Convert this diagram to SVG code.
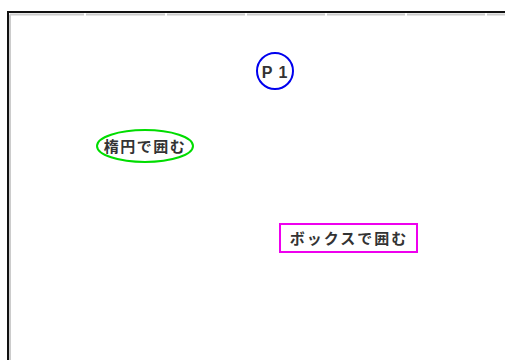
<svg xmlns="http://www.w3.org/2000/svg" width="505" height="360" viewBox="0 0 505 360">
<style>
.lbl{font-family:"Liberation Sans","Noto Sans CJK JP",sans-serif;font-size:15px;font-weight:bold;fill:#333;text-anchor:middle;dominant-baseline:central}
.frame{fill:none;stroke:#111;stroke-width:2}
.shade{fill:none;stroke:#ccc;stroke-width:2}
</style>
<rect width="505" height="360" fill="#fff"/>
<g id="frame">
<path class="shade" d="M10,360 V14.5"/>
<path class="shade" d="M10,14.5 H84 M86,14.5 H165 M167,14.5 H245 M247,14.5 H325 M327,14.5 H405 M407,14.5 H485 M487,14.5 H505"/>
<path class="frame" d="M8,360 V12 H505"/>
</g>
<g id="p1">
<circle cx="275" cy="71" r="18" fill="none" stroke="#0000ee" stroke-width="2"/>
<text class="lbl" x="275" y="72" style="font-size:16px;letter-spacing:1px">P 1</text>
</g>
<g id="ellipse">
<ellipse cx="145" cy="146" rx="48" ry="16" fill="none" stroke="#00dd00" stroke-width="2"/>
<text class="lbl" x="145" y="146" style="letter-spacing:1.5px">楕円で囲む</text>
</g>
<g id="box">
<rect x="280" y="224" width="137" height="28" fill="none" stroke="#ee00ee" stroke-width="2"/>
<text class="lbl" x="349" y="238" style="letter-spacing:2px">ボックスで囲む</text>
</g>
<g id="connectors"></g>
</svg>
